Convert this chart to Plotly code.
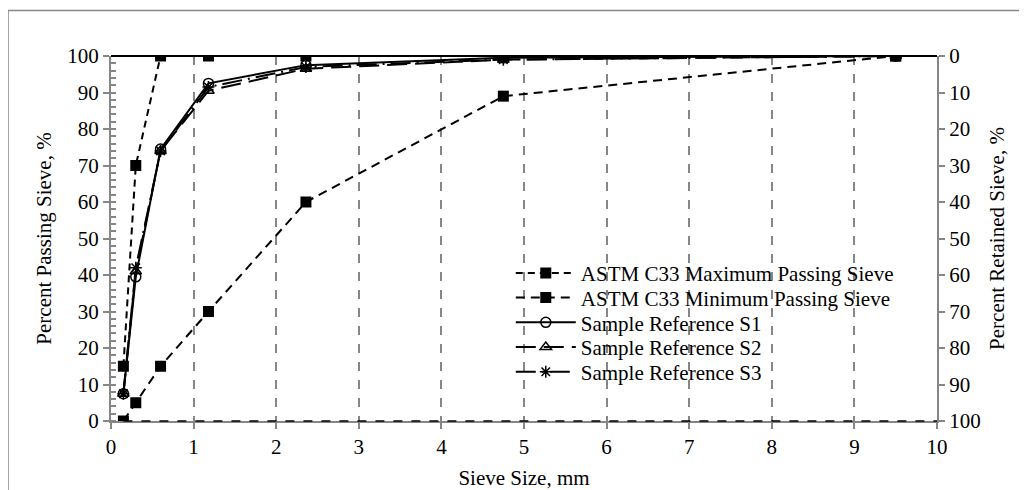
import plotly.graph_objects as go

sieve = [0.15, 0.3, 0.6, 1.18, 2.36, 4.75, 9.5]
astm_max = [15, 70, 100, 100, 100, 100, 100]
astm_min = [0, 5, 15, 30, 60, 89, 100]
s1 = [7.5, 39.5, 74.5, 92.5, 97.5, 99.5, 100]
s2 = [7.5, 41, 74, 90.5, 96.5, 99, 100]
s3 = [7.5, 42, 74, 91.5, 97, 99, 100]

x_ticks = list(range(0, 11))
y_ticks = list(range(0, 101, 10))

FONT = "Liberation Serif, Times New Roman, serif"
FS = 21
fig = go.Figure()

legend_names = ["legend", "legend2", "legend3", "legend4", "legend5"]

fig.add_trace(go.Scatter(x=sieve, y=astm_max, name="ASTM C33 Maximum Passing Sieve",
                         mode="lines+markers", legend=legend_names[0],
                         line=dict(color="black", width=2, dash="7px,5px"),
                         marker=dict(symbol="square", size=11, color="black")))
fig.add_trace(go.Scatter(x=sieve, y=astm_min, name="ASTM C33 Minimum Passing Sieve",
                         mode="lines+markers", legend=legend_names[1],
                         line=dict(color="black", width=2, dash="9px,6px"),
                         marker=dict(symbol="square", size=11, color="black")))
fig.add_trace(go.Scatter(x=sieve, y=s1, name="Sample Reference S1",
                         mode="lines+markers", legend=legend_names[2],
                         line=dict(color="black", width=2),
                         marker=dict(symbol="circle-open", size=10, color="black",
                                     line=dict(width=1.5, color="black"))))
fig.add_trace(go.Scatter(x=sieve, y=s2, name="Sample Reference S2",
                         mode="lines+markers", legend=legend_names[3],
                         line=dict(color="black", width=2, dash="20px,8px"),
                         marker=dict(symbol="triangle-up-open", size=10, color="black",
                                     line=dict(width=1.5, color="black"))))
fig.add_trace(go.Scatter(x=sieve, y=s3, name="Sample Reference S3",
                         mode="lines+markers", legend=legend_names[4],
                         line=dict(color="black", width=2, dash="20px,6px,2px,6px"),
                         marker=dict(symbol="asterisk-open", size=10, color="black",
                                     line=dict(width=1.5, color="black"))))
# empty trace to activate the secondary (retained) axis
fig.add_trace(go.Scatter(x=[None], y=[None], yaxis="y2", showlegend=False,
                         hoverinfo="skip", mode="lines"))

axis_gray = "#868686"
legend_layout = {}
for i, ln in enumerate(legend_names):
    legend_layout[ln] = dict(x=0.484, y=0.461 - i * 25 / 369, xanchor="left", yanchor="top",
                             bgcolor="rgba(0,0,0,0)", font=dict(size=FS, family=FONT),
                             itemwidth=60)

fig.update_layout(
    width=1027, height=490,
    margin=dict(l=103, r=98, t=48, b=70),
    paper_bgcolor="white", plot_bgcolor="white",
    font=dict(family=FONT, size=FS, color="black"),
    showlegend=True,
    xaxis=dict(range=[0, 10], tickvals=x_ticks, showgrid=True,
               gridcolor=axis_gray, griddash="dash", gridwidth=1.5,
               showline=True, linecolor=axis_gray, linewidth=2,
               ticks="outside", tickcolor=axis_gray, ticklen=6, tickwidth=1.5,
               zeroline=False,
               title=dict(text="Sieve Size, mm", font=dict(size=FS), standoff=12),
               tickfont=dict(size=FS)),
    yaxis=dict(range=[0, 100], tickvals=y_ticks, showgrid=False,
               showline=True, linecolor=axis_gray, linewidth=2,
               ticks="outside", tickcolor=axis_gray, ticklen=6, tickwidth=1.5,
               minor=dict(dtick=2, ticks="inside", ticklen=5, tickcolor=axis_gray),
               zeroline=False,
               title=dict(text="Percent Passing Sieve, %", font=dict(size=FS), standoff=10),
               tickfont=dict(size=FS)),
    yaxis2=dict(range=[100, 0], tickvals=y_ticks, overlaying="y", side="right",
                showgrid=False, showline=True, linecolor=axis_gray, linewidth=2,
                ticks="outside", tickcolor=axis_gray, ticklen=6, tickwidth=1.5,
                zeroline=False,
                title=dict(text="Percent Retained Sieve, %", font=dict(size=FS), standoff=10),
                tickfont=dict(size=FS)),
    **legend_layout,
)

# decorative frame lines
fig.add_shape(type="line", xref="x domain", yref="y domain", x0=0, x1=1, y0=1, y1=1,
              line=dict(color="black", width=2))
fig.add_shape(type="line", xref="x domain", yref="y domain", x0=0.015, x1=1, y0=0, y1=0,
              line=dict(color="black", width=1.5, dash="dash"))
fig.add_shape(type="rect", xref="paper", yref="paper",
              x0=-0.1247, x1=1.2, y0=-0.25, y1=1.1247,
              line=dict(color=axis_gray, width=1.5), layer="below")

fig.write_html("out.html")
